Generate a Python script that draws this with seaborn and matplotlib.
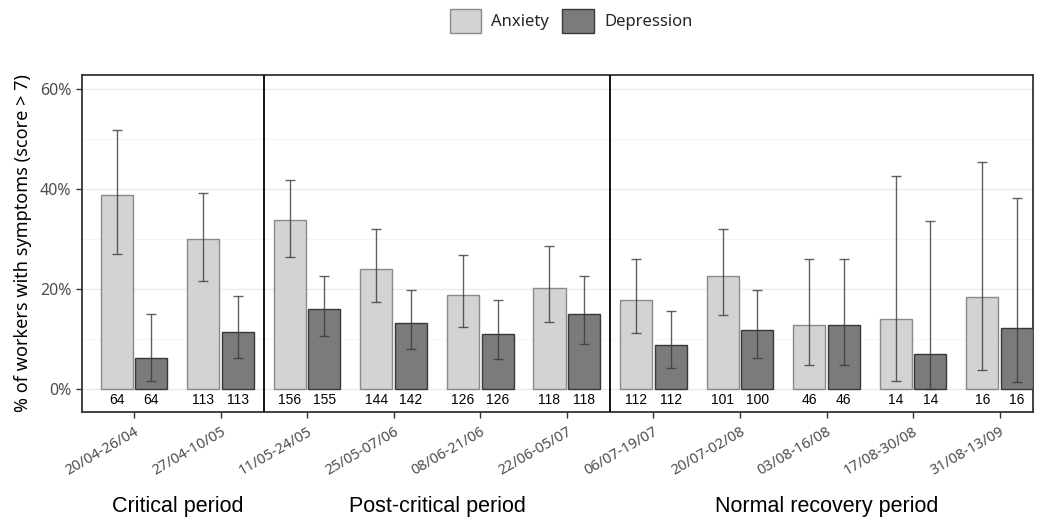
import numpy as np
import pandas as pd
import matplotlib
matplotlib.use('Agg')
import matplotlib.pyplot as plt
from matplotlib.ticker import MultipleLocator, FuncFormatter
import seaborn as sns

# Data
periods = ['20/04-26/04', '27/04-10/05', '11/05-24/05', '25/05-07/06', '08/06-21/06',
           '22/06-05/07', '06/07-19/07', '20/07-02/08', '03/08-16/08', '17/08-30/08',
           '31/08-13/09']
anxiety = [38.9, 30.0, 33.9, 24.1, 18.9, 20.2, 17.8, 22.6, 12.9, 14.1, 18.5]
anxiety_lo = [27.0, 21.6, 26.4, 17.4, 12.4, 13.4, 11.2, 14.9, 4.8, 1.7, 3.9]
anxiety_hi = [51.9, 39.3, 41.9, 32.0, 26.8, 28.6, 26.0, 32.1, 26.0, 42.6, 45.5]
anxiety_n = [64, 113, 156, 144, 126, 118, 112, 101, 46, 14, 16]
depression = [6.2, 11.4, 16.0, 13.2, 11.0, 15.1, 8.8, 11.8, 12.9, 7.1, 12.3]
depression_lo = [1.6, 6.2, 10.6, 8.1, 6.1, 9.1, 4.2, 6.3, 4.8, 0.0, 1.5]
depression_hi = [15.1, 18.7, 22.7, 19.9, 17.8, 22.7, 15.7, 19.9, 26.0, 33.7, 38.2]
depression_n = [64, 113, 155, 142, 126, 118, 112, 100, 46, 14, 16]
groups = ['Anxiety', 'Depression']
phase_names = ['Critical period', 'Post-critical period', 'Normal recovery period']
phase_sizes = [2, 4, 5]

df = pd.concat([
    pd.DataFrame({'period': periods, 'group': 'Anxiety', 'value': anxiety,
                  'lo': anxiety_lo, 'hi': anxiety_hi, 'n': anxiety_n}),
    pd.DataFrame({'period': periods, 'group': 'Depression', 'value': depression,
                  'lo': depression_lo, 'hi': depression_hi, 'n': depression_n}),
], ignore_index=True)

sns.set_style('white')
plt.rcParams['font.family'] = ['Noto Sans', 'DejaVu Sans']

fig = plt.figure(figsize=(10.41, 5.19), dpi=100)
ax = fig.add_axes([0.0788, 0.2062, 0.9135, 0.6493])

fills = {'Anxiety': '#d3d3d3', 'Depression': '#7b7b7b'}
edges = {'Anxiety': '#8a8a8a', 'Depression': '#383838'}

sns.barplot(data=df, x='period', y='value', hue='group', hue_order=groups,
            palette=fills, width=0.8, gap=0.075, errorbar=None, ax=ax,
            linewidth=1.0, zorder=3)

for cont, g in zip(ax.containers, groups):
    sub = df[df['group'] == g]
    xs = []
    for p in cont.patches:
        p.set_edgecolor(edges[g])
        xs.append(p.get_x() + p.get_width() / 2)
    xs = np.array(xs)
    vals = sub['value'].to_numpy()
    yerr = [vals - sub['lo'].to_numpy(), sub['hi'].to_numpy() - vals]
    ax.errorbar(xs, vals, yerr=yerr, fmt='none', ecolor='#3a3a3a', alpha=0.8,
                elinewidth=1.0, capsize=3.3, capthick=1.0, zorder=4)
    for x, n in zip(xs, sub['n']):
        ax.text(x, -2.15, str(n), ha='center', va='center', fontsize=10,
                family='Liberation Sans', color='black')

ax.get_legend().remove()

# period separators
bounds = np.cumsum(phase_sizes)[:-1] - 0.5
for b in bounds:
    ax.axvline(b, color='black', lw=1.3, zorder=5)

ax.set_xlim(-0.6, 10.385)
ax.set_ylim(-4.5, 62.9)
ax.yaxis.set_major_locator(MultipleLocator(20))
ax.yaxis.set_minor_locator(MultipleLocator(10))
ax.yaxis.set_major_formatter(FuncFormatter(lambda v, p: f'{v:.0f}%'))
ax.grid(axis='y', which='major', color='#ebebeb', lw=1.0, zorder=0)
ax.grid(axis='y', which='minor', color='#f4f4f4', lw=0.8, zorder=0)
ax.grid(axis='x', visible=False)
ax.set_axisbelow(True)

for s in ax.spines.values():
    s.set_visible(True)
    s.set_color('#333333')
    s.set_linewidth(1.3)

ax.tick_params(axis='both', which='major', direction='out', length=4, width=1,
               color='#333333', labelcolor='#4d4d4d', labelsize=11.5, left=True, bottom=True)
ax.tick_params(axis='y', which='minor', length=0)
ax.set_xticks(range(len(periods)))
ax.set_xticklabels(periods, rotation=30, ha='right', rotation_mode='anchor')
ax.tick_params(axis='x', labelsize=10.5, pad=5)

ax.set_xlabel('')
ax.set_ylabel('% of workers with symptoms (score > 7)', fontsize=13, color='black', labelpad=6)

# period names under the axis
starts = np.concatenate([[0], np.cumsum(phase_sizes)[:-1]])
for name, st, sz in zip(phase_names, starts, phase_sizes):
    cx = st + (sz - 1) / 2
    ax.text(cx, -0.28, name, transform=ax.get_xaxis_transform(), ha='center', va='center',
            fontsize=15.5, family='Liberation Sans', color='black')

handles, labels = ax.get_legend_handles_labels()
for h, g in zip(handles, groups):
    h.set_edgecolor(edges[g])
fig.legend(handles, labels, loc='center', bbox_to_anchor=(571 / 1041, 1 - 21 / 519),
           ncol=2, frameon=False, fontsize=12, handlelength=1.9, handleheight=1.8,
           columnspacing=0.8, handletextpad=0.6)

fig.savefig('out.png', dpi=100)
